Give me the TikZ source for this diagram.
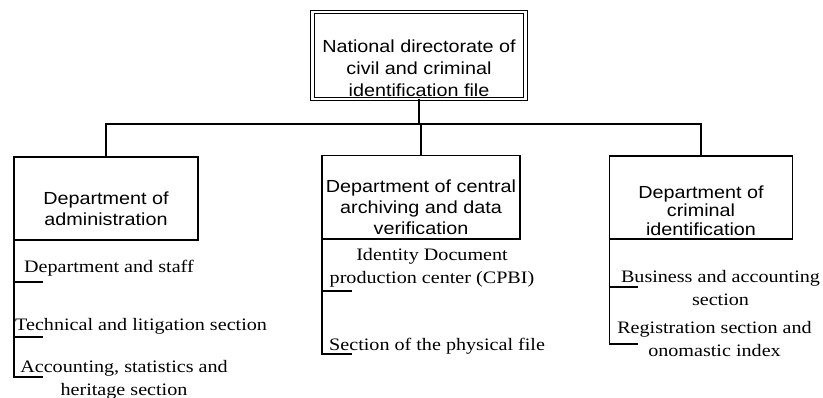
\documentclass[tikz,border=0pt]{standalone}
\usepackage{fontspec}
\newfontfamily\boxfont{Liberation Sans}[FakeStretch=1.13]
\newfontfamily\itemfont{Liberation Serif}[FakeStretch=1.15]
\usetikzlibrary{calc}

\begin{document}
\begin{tikzpicture}[x=1pt,y=-1pt,
  unitbox/.style={draw, line width=1.2pt, rectangle, inner sep=0pt, outer sep=0pt},
  headbox/.style={draw, double, line width=1pt, double distance=2.2pt, rectangle, inner sep=0pt, outer sep=0pt},
  boxtext/.style={inner sep=0pt, align=center, anchor=base, font=\boxfont\fontsize{17.5}{#1}\selectfont},
  boxtext/.default=21,
  itemtext/.style={inner sep=0pt, font=\itemfont\fontsize{17.5}{22.5}\selectfont},
  link/.style={line width=1.2pt}]
\useasboundingbox (0,0) rectangle (823,398);

% boxes
\node[headbox, minimum width=213pt, minimum height=87pt] (top) at (419,55.5) {};
\node[unitbox, minimum width=184pt, minimum height=83pt] (adm) at (106,198.5) {};
\node[unitbox, minimum width=198pt, minimum height=83.5pt] (arc) at (421,197.25) {};
\node[unitbox, minimum width=183pt, minimum height=83pt] (cri) at (701,197.5) {};

% box labels (placed by the baseline of their last line)
\node[boxtext=22.3] (toptxt) at (419,97) {National directorate of\\civil and criminal\\identification file};
\node[boxtext=21.5] (admtxt) at (106,226) {Department of\\administration};
\node[boxtext=21] (arctxt) at (421,235) {Department of central\\archiving and data\\verification};
\node[boxtext=18.5] (critxt) at (701,235.5) {Department of\\criminal\\identification};

% tree connectors
\coordinate (bus) at (0,124);
\draw[link] (top.south) -- (top.south |- bus);
\draw[link] (adm.north) |- (cri.north |- bus) -- (cri.north);
\draw[link] (arc.north) -- (arc.north |- bus);

% sections of the administration department
\coordinate (a1) at (43,282);
\coordinate (a2) at (43,337);
\coordinate (a3) at (43,377);
\draw[link] (adm.south west) |- (a3);
\draw[link] (adm.south west) |- (a1);
\draw[link] (adm.south west) |- (a2);
\node[itemtext, anchor=base west] (ad1) at (24,273) {Department and staff};
\node[itemtext, anchor=base west] (ad2) at (15,331) {Technical and litigation section};
\node[itemtext, anchor=base, align=center] (ad3) at (124,395.5) {Accounting, statistics and\\heritage section};

% sections of the archiving department
\coordinate (m1) at (352,291);
\coordinate (m2) at (352,354);
\draw[link] (arc.south west) |- (m2);
\draw[link] (arc.south west) |- (m1);
\node[itemtext, anchor=base, align=center] (ar1) at (432,283.5) {Identity Document\\production center (CPBI)};
\node[itemtext, anchor=base west] (ar2) at (329,351) {Section of the physical file};

% sections of the criminal identification department
\coordinate (r1) at (638,287);
\coordinate (r2) at (638,344);
\draw[link] (cri.south west) |- (r2);
\draw[link] (cri.south west) |- (r1);
\node[itemtext, anchor=base, align=center] (cr1) at (720.5,305.5) {Business and accounting\\section};
\node[itemtext, anchor=base, align=center] (cr2) at (714.5,356.5) {Registration section and\\onomastic index};
\end{tikzpicture}
\end{document}
